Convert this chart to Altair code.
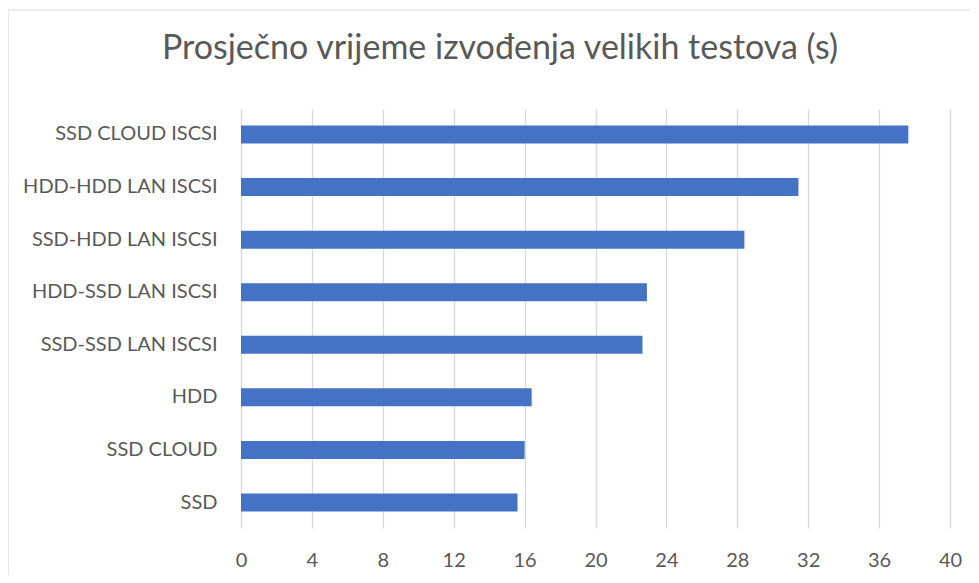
import altair as alt
import pandas as pd

categories = ["SSD CLOUD ISCSI", "HDD-HDD LAN ISCSI", "SSD-HDD LAN ISCSI", "HDD-SSD LAN ISCSI",
              "SSD-SSD LAN ISCSI", "HDD", "SSD CLOUD", "SSD"]
values = [37.65, 31.45, 28.4, 22.9, 22.65, 16.4, 16.0, 15.6]
x_ticks = [0, 4, 8, 12, 16, 20, 24, 28, 32, 36, 40]
title_text = ["Prosječno vrijeme izvođenja velikih testova (s)"]

df = pd.DataFrame({"kategorija": categories, "vrijeme": values})

FONT = "Lato"
GREY = "#595959"

bars = alt.Chart(df).mark_bar(color="#4472C4").encode(
    x=alt.X("vrijeme:Q",
            scale=alt.Scale(domain=[0, 40], nice=False, zero=True),
            axis=alt.Axis(values=x_ticks, title=None, grid=True, gridColor="#d9d9d9", gridWidth=1.3,
                          domain=False, ticks=False, tickSize=0, labelFont=FONT, labelFontSize=20,
                          labelColor=GREY, labelBaseline="alphabetic", labelPadding=38,
                          labelFlush=False)),
    y=alt.Y("kategorija:N", sort=categories,
            scale=alt.Scale(paddingInner=0.658, paddingOuter=0.314),
            axis=alt.Axis(title=None, domain=False, ticks=False, tickSize=0, labelFont=FONT,
                          labelFontSize=20, labelColor=GREY, labelPadding=24, labelLimit=400)),
)

border_df = pd.DataFrame({"x": [-233], "x2": [745], "y": [-99], "y2": [480]})
border = alt.Chart(border_df).mark_rect(fill=None, stroke="#d9d9d9", strokeWidth=1.2, clip=False).encode(
    x=alt.X("x:Q", scale=None), x2="x2:Q", y=alt.Y("y:Q", scale=None), y2="y2:Q"
)

title_df = pd.DataFrame({"t": title_text})
title = alt.Chart(title_df).mark_text(font=FONT, fontSize=34, color=GREY, align="center",
                                      baseline="alphabetic").encode(
    text="t:N", x=alt.value(259), y=alt.value(-50)
)

chart = alt.layer(border, bars, title).properties(
    width=709,
    height=419,
    autosize=alt.AutoSizeParams(type="none"),
    padding={"left": 233, "top": 101, "right": 20, "bottom": 47},
).configure_view(stroke=None)

chart.save("out.html", embed_options={"renderer": "svg", "actions": False})
